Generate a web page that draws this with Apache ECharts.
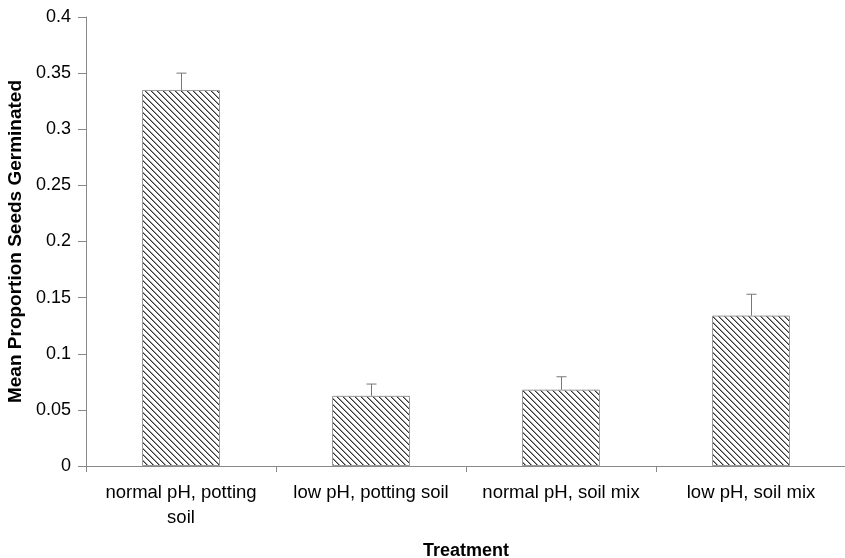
<!DOCTYPE html>
<html>
<head>
<meta charset="utf-8">
<title>Seed germination by treatment</title>
<script src="https://cdn.jsdelivr.net/npm/echarts@6/dist/echarts.min.js"></script>
</head>
<body style="margin:0">
<div id="chart" style="width:845px;height:558px"></div>
<script>
// data
const categories = ['normal pH, potting\nsoil', 'low pH, potting soil', 'normal pH, soil mix', 'low pH, soil mix'];
const means = [0.335, 0.0625, 0.068, 0.134];
const errUpper = [0.35, 0.073, 0.0795, 0.153];

// diagonal hatch fill like the original
function makeHatch() {
    const c = document.createElement('canvas');
    c.width = 6; c.height = 6;
    const ctx = c.getContext('2d');
    ctx.fillStyle = '#fff';
    ctx.fillRect(0, 0, 6, 6);
    for (let i = 0; i < 6; i++) {
        ctx.fillStyle = '#333';
        ctx.fillRect(i, i, 1, 1);
        ctx.fillStyle = '#999';
        ctx.fillRect((i + 1) % 6, i, 1, 1);
    }
    return c;
}

const chart = echarts.init(document.getElementById('chart'), null, { renderer: 'canvas' });
const font = 'Liberation Sans, Arial, sans-serif';

chart.setOption({
    backgroundColor: '#fff',
    animation: false,
    grid: { left: 86, top: 17, width: 760, height: 449, outerBoundsMode: 'none', containLabel: false },
    xAxis: {
        type: 'category',
        data: categories,
        axisLine: { lineStyle: { color: '#888' } },
        axisTick: { show: true, interval: 0, length: 6, lineStyle: { color: '#888' } },
        axisLabel: { interval: 0, color: '#000', fontFamily: font, fontSize: 18.5, margin: 14, lineHeight: 25 },
        name: 'Treatment',
        nameLocation: 'middle',
        nameGap: 76,
        nameTextStyle: { color: '#000', fontFamily: font, fontSize: 18, fontWeight: 'bold' }
    },
    yAxis: {
        type: 'value',
        min: 0, max: 0.4, interval: 0.05,
        splitLine: { show: false },
        axisLine: { show: true, lineStyle: { color: '#888' } },
        axisTick: { show: true, length: 8, lineStyle: { color: '#888' } },
        axisLabel: { color: '#000', fontFamily: font, fontSize: 18, margin: 15 },
        name: 'Mean Proportion Seeds Germinated',
        nameLocation: 'middle',
        nameGap: 59,
        nameTextStyle: { color: '#000', fontFamily: font, fontSize: 19, fontWeight: 'bold' }
    },
    series: [
        {
            type: 'bar',
            data: means,
            barWidth: 78,
            itemStyle: {
                color: { image: makeHatch(), repeat: 'repeat' },
                borderColor: '#999',
                borderWidth: 1
            }
        },
        {
            type: 'custom',
            data: means.map((m, i) => [i, m, errUpper[i]]),
            renderItem: function (params, api) {
                const base = api.coord([api.value(0), api.value(1)]);
                const top = api.coord([api.value(0), api.value(2)]);
                const x = Math.round(base[0]) + 0.5;
                return {
                    type: 'group',
                    children: [
                        { type: 'line', shape: { x1: x, y1: base[1], x2: x, y2: top[1] }, style: { stroke: '#777', lineWidth: 1 } },
                        { type: 'line', shape: { x1: x - 5, y1: top[1], x2: x + 5, y2: top[1] }, style: { stroke: '#777', lineWidth: 1 } }
                    ]
                };
            },
            z: 10
        }
    ]
});
</script>
</body>
</html>
